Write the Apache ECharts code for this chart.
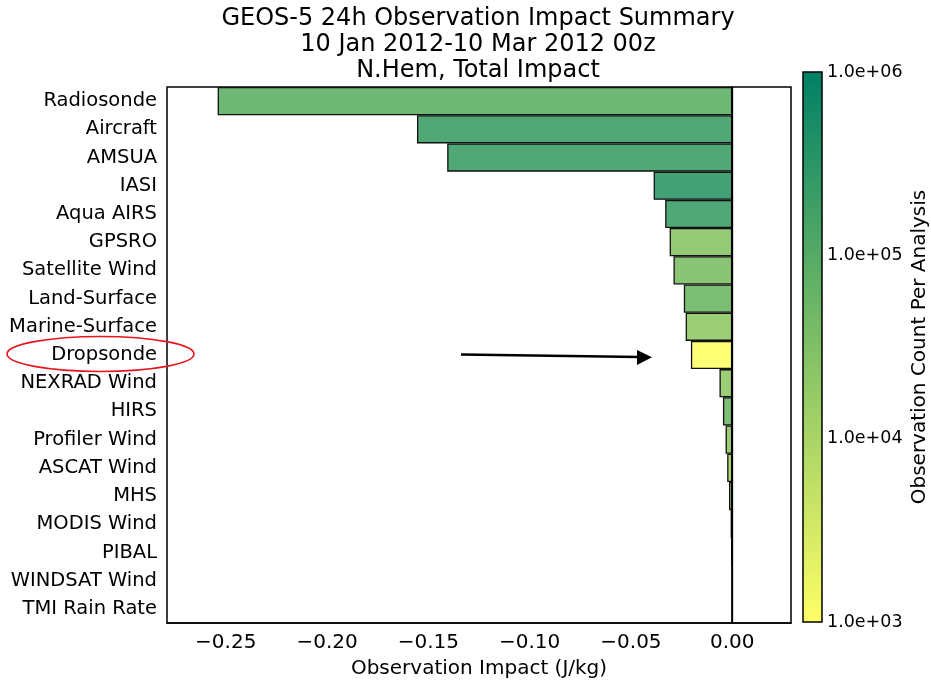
<!DOCTYPE html>
<html>
<head>
<meta charset="utf-8">
<script src="https://cdn.jsdelivr.net/npm/echarts@6/dist/echarts.min.js"></script>
<style>
  html, body { margin: 0; padding: 0; background: #fff; }
  #chart { width: 931px; height: 681px; }
</style>
</head>
<body>
<div id="chart"></div>
<script>
// observation types, top to bottom
const obsTypes = ['Radiosonde', 'Aircraft', 'AMSUA', 'IASI', 'Aqua AIRS', 'GPSRO', 'Satellite Wind',
  'Land-Surface', 'Marine-Surface', 'Dropsonde', 'NEXRAD Wind', 'HIRS', 'Profiler Wind',
  'ASCAT Wind', 'MHS', 'MODIS Wind', 'PIBAL', 'WINDSAT Wind', 'TMI Rain Rate']
// total impact (J/kg)
const impact = [-0.254, -0.1556, -0.1407, -0.0388, -0.0331, -0.0309, -0.0290, -0.0239, -0.0230,
  -0.0204, -0.0063, -0.0046, -0.0033, -0.0025, -0.0016, -0.0008, -0.0005, -0.0001, -0.00005]
// observation count per analysis
const obsCount = [77000, 200000, 200000, 290000, 200000, 25000, 34000, 50000, 20000,
  1000, 20000, 50000, 19000, 9300, 12000, 15000, 3000, 20000, 8000]
const xTicks = [-0.25, -0.20, -0.15, -0.10, -0.05, 0.00]
const cbarExp = [3, 4, 5, 6]  // colorbar ticks, 10^n

const font = 'DejaVu Sans'
const fmtX = (v) => v.toFixed(2).replace('-', '\u2212')

const rows = obsTypes.map((name, i) => [impact[i], name, Math.log10(obsCount[i])])

const myChart = echarts.init(document.getElementById('chart'))

const options = {
  backgroundColor: '#fff',
  animation: false,
  textStyle: { fontFamily: font },
  title: {
    text: 'GEOS-5 24h Observation Impact Summary\n10 Jan 2012-10 Mar 2012 00z\nN.Hem, Total Impact',
    left: 478,
    top: 6,
    padding: 0,
    textAlign: 'center',
    textStyle: { fontFamily: font, fontSize: 24, fontWeight: 'normal', color: '#000', lineHeight: 26 }
  },
  grid: [
    { left: 167, right: 140, top: 87, bottom: 58, outerBoundsMode: 'none', show: true, borderColor: '#000', borderWidth: 1.5, backgroundColor: 'transparent' },
    { left: 803, width: 19, top: 72, bottom: 59, outerBoundsMode: 'none' }
  ],
  xAxis: [
    {
      type: 'value', gridIndex: 0, min: -0.279, max: 0.029, position: 'bottom', z: 10,
      splitLine: { show: false },
      axisLine: { show: true, lineStyle: { color: '#000', width: 1.5 } },
      axisTick: { inside: true, length: 7, lineStyle: { color: '#000', width: 1 }, customValues: xTicks },
      axisLabel: { customValues: xTicks, formatter: fmtX, color: '#000', fontSize: 20, margin: 10, fontFamily: font },
      name: 'Observation Impact (J/kg)', nameLocation: 'middle', nameGap: 36,
      nameTextStyle: { color: '#000', fontSize: 20, fontFamily: font }
    },
    {
      type: 'value', gridIndex: 0, min: -0.279, max: 0.029, position: 'top', z: 10,
      splitLine: { show: false },
      axisLine: { show: false },
      axisTick: { inside: true, length: 7, lineStyle: { color: '#000', width: 1 }, customValues: xTicks },
      axisLabel: { show: false }
    },
    {
      type: 'category', gridIndex: 1, data: [''],
      axisLine: { show: false }, axisTick: { show: false }, axisLabel: { show: false }
    }
  ],
  yAxis: [
    {
      type: 'category', gridIndex: 0, data: obsTypes, inverse: true, position: 'left', z: 10,
      axisLine: { show: true, lineStyle: { color: '#000', width: 1.5 } },
      axisTick: { inside: true, length: 7, alignWithLabel: true, interval: 0, lineStyle: { color: '#000', width: 1 } },
      axisLabel: { interval: 0, color: '#000', fontSize: 19.5, margin: 10, fontFamily: font, padding: [6, 0, 0, 0] }
    },
    {
      type: 'category', gridIndex: 0, data: obsTypes, inverse: true, position: 'right', z: 10,
      axisLine: { show: false },
      axisTick: { inside: true, length: 7, alignWithLabel: true, interval: 0, lineStyle: { color: '#000', width: 1 } },
      axisLabel: { show: false }
    },
    {
      type: 'value', gridIndex: 1, min: 3, max: 6, interval: 1, position: 'right', z: 10,
      splitLine: { show: false },
      axisLine: { show: false },
      axisTick: { inside: true, length: 7, lineStyle: { color: '#000' } },
      axisLabel: { formatter: (v) => '1.0e+0' + v, color: '#000', fontSize: 17.5, margin: 5, fontFamily: font },
      name: 'Observation Count Per Analysis', nameLocation: 'middle', nameRotate: 90, nameGap: 88,
      nameTextStyle: { color: '#000', fontSize: 20, fontFamily: font }
    }
  ],
  visualMap: {
    show: false,
    type: 'continuous',
    seriesIndex: 0,
    dimension: 2,
    min: 3,
    max: 6,
    inRange: { color: ['#ffff75', '#1a8d75'] }
  },
  dataset: { source: rows },
  series: [
    {
      type: 'bar',
      xAxisIndex: 0, yAxisIndex: 0,
      encode: { x: 0, y: 1 },
      barCategoryGap: '0%',
      itemStyle: { borderColor: '#111', borderWidth: 1.3 },
      markLine: {
        silent: true, symbol: 'none', label: { show: false },
        lineStyle: { color: '#000', width: 1.3, type: 'solid' },
        data: [{ xAxis: 0 }]
      }
    },
    {
      type: 'custom',
      xAxisIndex: 2, yAxisIndex: 2,
      data: [[0, cbarExp[cbarExp.length - 1]]],
      renderItem: (params, api) => {
        const top = api.coord([0, cbarExp[cbarExp.length - 1]])
        const bot = api.coord([0, cbarExp[0]])
        const w = api.size([1, 0])[0]
        return {
          type: 'rect',
          shape: { x: top[0] - w / 2, y: top[1], width: w, height: bot[1] - top[1] },
          style: {
            fill: new echarts.graphic.LinearGradient(0, 0, 0, 1, [
              { offset: 0, color: '#008066' },
              { offset: 1, color: '#ffff66' }
            ]),
            stroke: '#000', lineWidth: 1.5
          }
        }
      }
    }
  ],
  graphic: [
    // red circle round the Dropsonde label
    {
      type: 'ellipse', z: 100,
      shape: { cx: 100.5, cy: 354, rx: 93.5, ry: 17.5 },
      style: { fill: 'none', stroke: '#e8141e', lineWidth: 1.6 }
    },
    // arrow pointing at the Dropsonde bar
    {
      type: 'line', z: 100,
      shape: { x1: 461, y1: 354.5, x2: 640, y2: 357 },
      style: { stroke: '#000', lineWidth: 2.5 }
    },
    {
      type: 'polygon', z: 100,
      shape: { points: [[637, 350], [652, 357.3], [637, 365]] },
      style: { fill: '#000' }
    }
  ]
}

myChart.setOption(options)
</script>
</body>
</html>
